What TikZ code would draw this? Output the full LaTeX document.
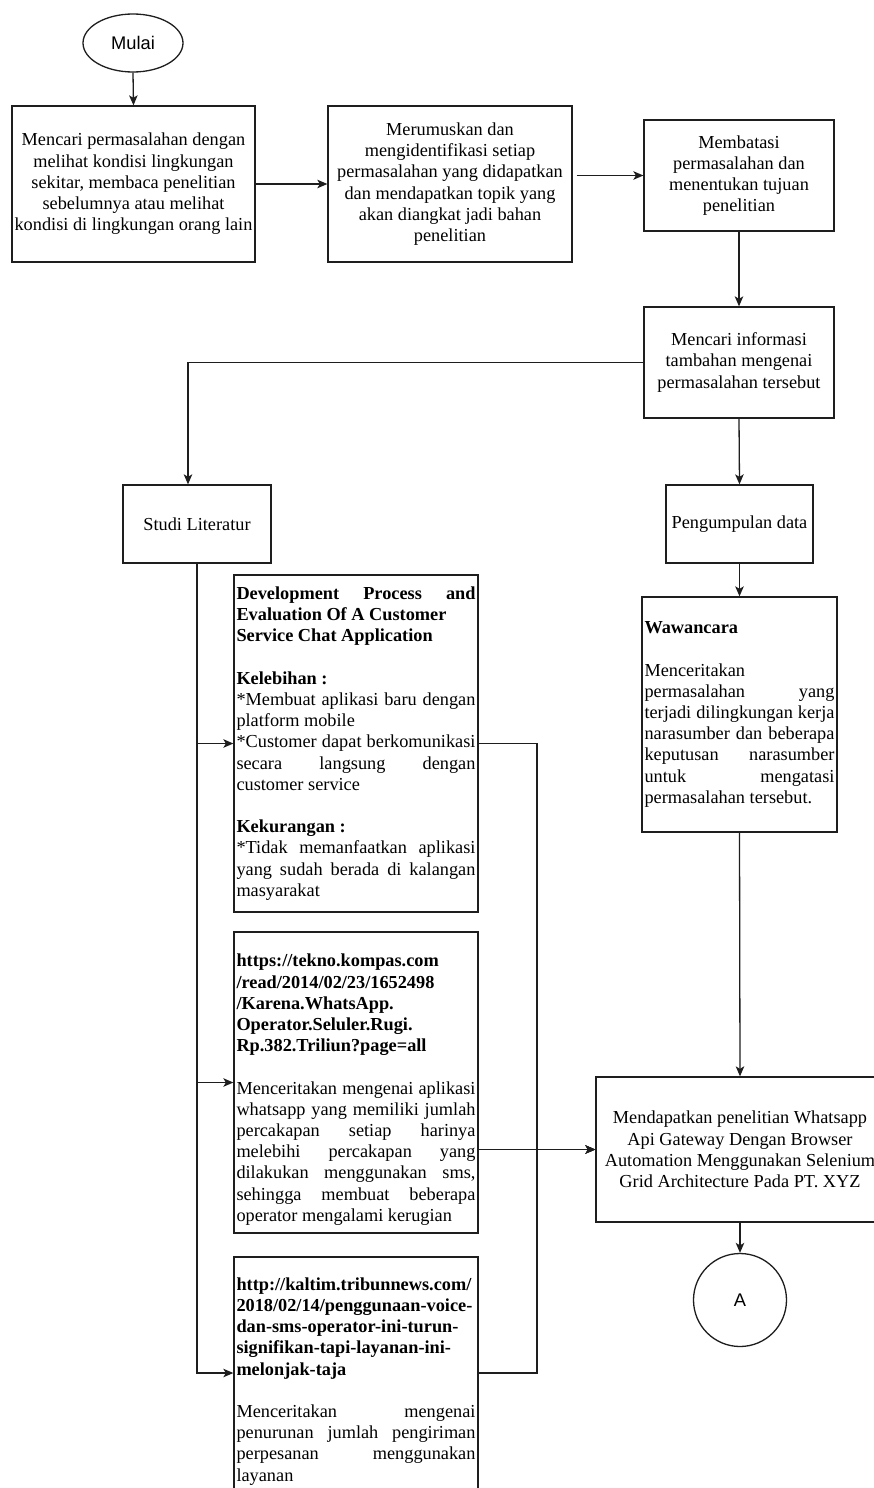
\documentclass[tikz,border=0pt]{standalone}
\usepackage{fontspec}
\setmainfont{Liberation Serif}
\newfontfamily\sansf{Liberation Sans}
\usetikzlibrary{arrows.meta,shapes.geometric}
\definecolor{ln}{HTML}{1E1E1E}
\newcommand\dtxt{\fontsize{18.3}{21.2}\selectfont\tolerance=10000\hbadness=10000\hyphenpenalty=10000\parindent=0pt\emergencystretch=0pt}
\newcommand\gap{\par\vskip21.2pt\relax}
\begin{document}
\begin{tikzpicture}[x=1pt,y=-1pt,
  base/.style={draw=ln,line width=1.3pt,fill=white,inner xsep=2pt,inner ysep=2pt,font=\dtxt},
  cbox/.style={base,rectangle,align=center},
  jbox/.style={base,rectangle,align=justify},
  term/.style={draw=ln,line width=1.3pt,fill=white,inner sep=0pt,font=\sansf\fontsize{18.3}{21}\selectfont},
  arr/.style={draw=ln,line width=1.3pt,-{Stealth[length=10pt,width=8.5pt,inset=2.5pt]}}]
\useasboundingbox (0,0) rectangle (874,1488);
\clip (0,0) rectangle (874,1488);
\fill[white] (0,0) rectangle (874,1488);
% nodes
\node[term,ellipse,minimum width=100pt,minimum height=58pt] (mulai) at (133,43) {Mulai};
\node[cbox,minimum width=243pt,minimum height=156pt] (b1) at (133.5,184)
 {Mencari permasalahan dengan\\ melihat kondisi lingkungan\\ sekitar, membaca penelitian\\ sebelumnya atau melihat\\ kondisi di lingkungan orang lain};
\node[cbox,minimum width=244pt,minimum height=156pt] (b2) at (450,184)
 {Merumuskan dan\\ mengidentifikasi setiap\\ permasalahan yang didapatkan\\ dan mendapatkan topik yang\\ akan diangkat jadi bahan\\ penelitian};
\node[cbox,minimum width=190pt,minimum height=111pt] (b3) at (739,175.5)
 {Membatasi\\ permasalahan dan\\ menentukan tujuan\\ penelitian};
\node[cbox,minimum width=190pt,minimum height=111pt] (b4) at (739,362.5)
 {Mencari informasi\\ tambahan mengenai\\ permasalahan tersebut};
\node[cbox,minimum width=148pt,minimum height=78pt] (studi) at (197,524) {Studi Literatur};
\node[cbox,minimum width=147pt,minimum height=78pt] (peng) at (739.5,524) {Pengumpulan data};
\node[jbox,minimum width=244pt,minimum height=337pt,text width=239pt] (dev) at (356,743.5)
 {\textbf{Development Process and\linebreak Evaluation Of A Customer\newline Service Chat Application}\gap
  \textbf{Kelebihan :}\par
  *Membuat aplikasi baru dengan\linebreak platform mobile\par
  *Customer dapat berkomunikasi\linebreak secara langsung dengan\linebreak customer service\gap
  \textbf{Kekurangan :}\par
  *Tidak memanfaatkan aplikasi\linebreak yang sudah berada di kalangan\linebreak masyarakat\par};
\node[jbox,minimum width=195pt,minimum height=235pt,text width=190pt] (wawan) at (739.5,714.5)
 {\textbf{Wawancara}\gap
  Menceritakan\newline permasalahan yang\linebreak terjadi dilingkungan kerja\linebreak narasumber dan beberapa\linebreak keputusan narasumber\linebreak untuk mengatasi\linebreak permasalahan tersebut.\par\vskip16pt\relax};
\node[jbox,minimum width=244pt,minimum height=301pt,text width=239pt] (kompas) at (356,1082.5)
 {\vskip6pt\textbf{https://tekno.kompas.com\newline /read/2014/02/23/1652498\newline /Karena.WhatsApp.\newline Operator.Seluler.Rugi.\newline Rp.382.Triliun?page=all}\gap
  Menceritakan mengenai aplikasi\linebreak whatsapp yang memiliki jumlah\linebreak percakapan setiap harinya\linebreak melebihi percakapan yang\linebreak dilakukan menggunakan sms,\linebreak sehingga membuat beberapa\linebreak operator mengalami kerugian\par};
\node[jbox,minimum width=244pt,minimum height=232pt,text width=239pt] (tribun) at (356,1373)
 {\vskip8pt\textbf{http://kaltim.tribunnews.com/\newline 2018/02/14/penggunaan-voice-\newline dan-sms-operator-ini-turun-\newline signifikan-tapi-layanan-ini-\newline melonjak-taja}\gap
  Menceritakan mengenai\linebreak penurunan jumlah pengiriman\linebreak perpesanan menggunakan\linebreak layanan\par};
\node[cbox,minimum width=288pt,minimum height=145pt] (final) at (740,1149.5)
 {Mendapatkan penelitian Whatsapp\\ Api Gateway Dengan Browser\\ Automation Menggunakan Selenium\\ Grid Architecture Pada PT. XYZ};
\node[term,circle,minimum size=93pt] (A) at (740,1300) {A};
% connectors
\coordinate (b2e) at ([xshift=4pt]b2.east);
\coordinate (j) at (537,1149.5);
\draw[arr] (mulai.south) -- (b1.north);
\draw[arr] (b1.east) -- (b2.west);
\draw[arr] (b2e |- b3.west) -- (b3.west);
\draw[arr] (b3.south) -- (b4.north);
\draw[arr] (b4.west) -| ([xshift=-9pt]studi.north);
\draw[arr] (b4.south) -- (peng.north);
\draw[arr] (peng.south) -- (wawan.north);
\draw[arr] (wawan.south) -- (final.north);
\draw[arr] (final.south) -- (A.north);
\draw[arr] (studi.south) |- (dev.west);
\draw[arr] (studi.south) |- (kompas.west);
\draw[arr] (studi.south) |- (tribun.west);
\draw[arr] (dev.east) -| (j) -- (final.west);
\draw[arr] (kompas.east |- final.west) -- (final.west);
\draw[arr] (tribun.east) -| (j) -- (final.west);
\end{tikzpicture}
\end{document}
